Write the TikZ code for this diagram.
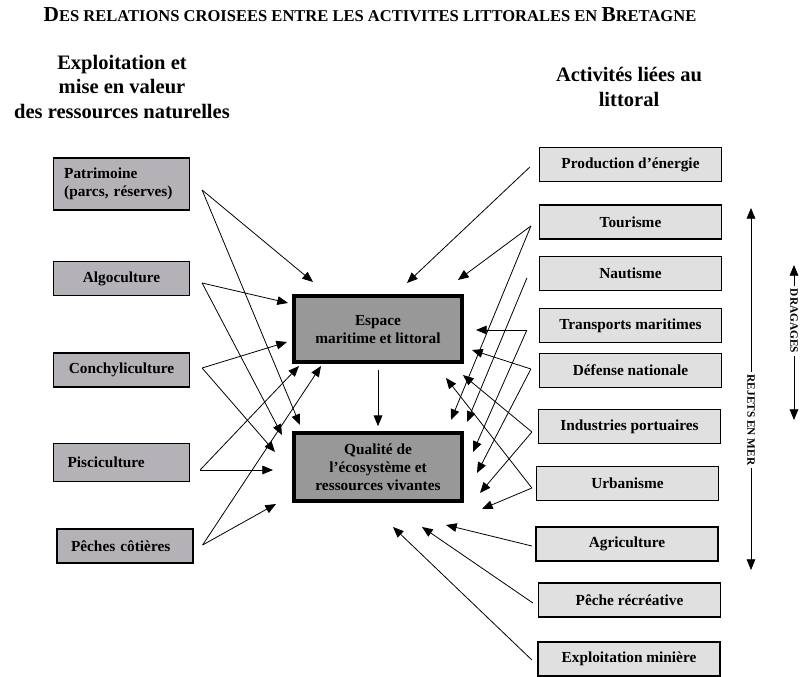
\documentclass[tikz,border=0pt]{standalone}
\usepackage{fontspec}
\setmainfont{Liberation Serif}
\usepackage{tikz}
\usetikzlibrary{arrows.meta}
\definecolor{leftgray}{RGB}{180,178,182}
\definecolor{midgray}{RGB}{152,152,152}
\definecolor{rightgray}{RGB}{224,224,224}
\newcommand{\titlecap}[1]{{\fontsize{16}{16}\selectfont #1}}
\newcommand{\titlesc}[1]{{\fontsize{12.4}{14}\selectfont #1}}

\begin{document}
\begin{tikzpicture}[x=0.75pt, y=-0.75pt,
  font=\bfseries\fontsize{11.5}{13.6}\selectfont,
  lbox/.style={draw, line width=0.9pt, fill=leftgray, text width=81pt, inner xsep=10.5pt, minimum height=25.5pt, align=left},
  rbox/.style={draw, line width=0.9pt, fill=rightgray, minimum width=136.5pt, minimum height=25.5pt, align=center},
  cbox/.style={draw, line width=3pt, fill=midgray, minimum width=126pt, minimum height=49.5pt, align=center},
  head/.style={font=\bfseries\fontsize{15.4}{18.4}\selectfont, align=center},
  side/.style={font=\bfseries\fontsize{8.5}{9}\selectfont, inner xsep=2pt, inner ysep=0pt},
  arr/.style={-{Triangle[length=8pt,width=6.5pt]}, line width=0.6pt}]
  \useasboundingbox (0,0) rectangle (801,677);

  \node (title) at (370,15) {\titlecap{D}\titlesc{ES RELATIONS CROISEES ENTRE LES ACTIVITES LITTORALES EN }\titlecap{B}\titlesc{RETAGNE}};
  \node[head] (lhead) at (122,87) {Exploitation et\\mise en valeur\\des ressources naturelles};
  \node[head] (rhead) at (629,87) {Activités liées au\\littoral};

  \node[lbox, minimum height=39pt, text width=86pt, inner xsep=8pt] (pat) at (121.5,184) {Patrimoine\\(parcs, réserves)};
  \node[lbox, align=center] (algo) at (121.5,278.5) {Algoculture};
  \node[lbox, align=center] (conch) at (121.5,370) {Conchyliculture};
  \node[lbox, minimum height=29pt] (pisc) at (121.5,462.5) {Pisciculture};
  \node[lbox] (pec) at (125,546) {Pêches côtières};

  \node[cbox] (esp) at (378,329.5) {Espace\\maritime et littoral};
  \node[cbox, minimum height=51pt] (qua) at (378,467.5) {Qualité de\\l'écosystème et\\ressources vivantes};

  \node[rbox] (prod) at (630.5,164.5) {Production d'énergie};
  \node[rbox] (tour) at (630.5,222) {Tourisme};
  \node[rbox] (naut) at (630.5,273.5) {Nautisme};
  \node[rbox] (trans) at (630.5,325.5) {Transports maritimes};
  \node[rbox] (def) at (630.5,370.5) {Défense nationale};
  \node[rbox] (ind) at (629.5,426.5) {Industries portuaires};
  \node[rbox] (urb) at (627.5,483.5) {Urbanisme};
  \node[rbox] (agr) at (627,544) {Agriculture};
  \node[rbox] (pech) at (629.5,600) {Pêche récréative};
  \node[rbox] (mine) at (629,659) {Exploitation minière};

  \draw[arr] ([shift={(12,6)}]pat.east) -- ([shift={(-65,-47.5)}]esp.center);
  \draw[arr] ([shift={(12,6)}]pat.east) -- ([shift={(-78,-42.5)}]qua.center);
  \draw[arr] ([shift={(12,4.5)}]algo.east) -- ([shift={(-90,-26.5)}]esp.center);
  \draw[arr] ([shift={(12,4.5)}]algo.east) -- ([shift={(-96,-32.5)}]qua.center);
  \draw[arr] ([shift={(12,-2)}]conch.east) -- ([shift={(-91,12.5)}]esp.center);
  \draw[arr] ([shift={(12,-2)}]conch.east) -- ([shift={(-103,-15.5)}]qua.center);
  \draw[arr] ([shift={(10,7.5)}]pisc.east) -- ([shift={(-79,36.5)}]esp.center);
  \draw[arr] ([shift={(10,7.5)}]pisc.east) -- ([shift={(-105,2.5)}]qua.center);
  \draw[arr] ([shift={(9,-1)}]pec.east) -- ([shift={(-57,36.5)}]esp.center);
  \draw[arr] ([shift={(9,-1)}]pec.east) -- ([shift={(-102,36.5)}]qua.center);

  \draw[arr] ([yshift=-4.5pt]esp.south) -- ([yshift=4pt]qua.north);

  \draw[arr] ([shift={(-9,2.5)}]prod.west) -- ([shift={(29,-46.5)}]esp.center);
  \draw[arr] ([shift={(-8,4)}]tour.west) -- ([shift={(80,-49.5)}]esp.center);
  \draw[arr] ([shift={(-8,4)}]tour.west) -- ([shift={(73,-47.5)}]qua.center);
  \draw[arr] ([shift={(-12,4.5)}]naut.west) -- ([shift={(89,-45.5)}]qua.center);
  \draw[arr] ([shift={(-12,4.5)}]trans.west) -- ([shift={(98,0.5)}]esp.center);
  \draw[arr] ([shift={(-12,4.5)}]trans.west) -- ([shift={(95,-15.5)}]qua.center);
  \draw[arr] ([shift={(-8,-1.5)}]def.west) -- ([shift={(94,20.5)}]esp.center);
  \draw[arr] ([shift={(-8,-1.5)}]def.west) -- ([shift={(99,5.5)}]qua.center);
  \draw[arr] ([shift={(-6,5.5)}]ind.west) -- ([shift={(85,45.5)}]esp.center);
  \draw[arr] ([shift={(-6,5.5)}]ind.west) -- ([shift={(102,25.5)}]qua.center);
  \draw[arr] ([shift={(-4,4.5)}]urb.west) -- ([shift={(68,48.5)}]esp.center);
  \draw[arr] ([shift={(-4,4.5)}]urb.west) -- ([shift={(104,41.5)}]qua.center);
  \draw[arr] ([shift={(-3.5,2)}]agr.west) -- ([shift={(68,57.5)}]qua.center);
  \draw[arr] ([shift={(-5,3)}]pech.west) -- ([shift={(44,59.5)}]qua.center);
  \draw[arr] ([shift={(-5.5,1)}]mine.west) -- ([shift={(15,59.5)}]qua.center);

  \node[side, rotate=-90] (rej) at (751,420) {REJETS EN MER};
  \coordinate (rej-up) at (751,208);
  \coordinate (rej-dn) at (751,570);
  \draw[arr] (rej.west) -- (rej-up);
  \draw[arr] (rej.east) -- (rej-dn);

  \node[side, rotate=-90] (drag) at (794,321) {DRAGAGES};
  \coordinate (drag-up) at (794,265);
  \coordinate (drag-dn) at (794,420);
  \draw[arr] (drag.west) -- (drag-up);
  \draw[arr] (drag.east) -- (drag-dn);
\end{tikzpicture}
\end{document}
